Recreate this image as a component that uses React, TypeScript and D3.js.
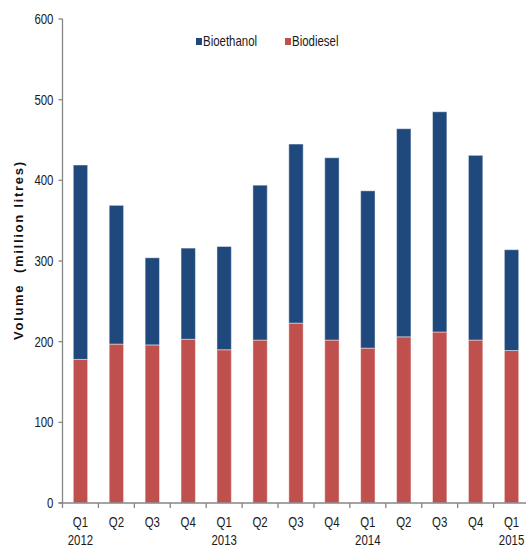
import React from "react";
import * as d3 from "d3";

// Quarterly volumes (million litres)
const quarters = ["Q1", "Q2", "Q3", "Q4", "Q1", "Q2", "Q3", "Q4", "Q1", "Q2", "Q3", "Q4", "Q1"];
const years = ["2012", "", "", "", "2013", "", "", "", "2014", "", "", "", "2015"];
const biodiesel = [178, 197, 196, 203, 190, 202, 223, 202, 192, 206, 212, 202, 189];
const bioethanol = [241, 172, 108, 113, 128, 192, 222, 226, 195, 258, 273, 229, 125];
const yTicks = [0, 100, 200, 300, 400, 500, 600];
const seriesNames = ["Bioethanol", "Biodiesel"];

const W = 526;
const H = 547;
const margin = { left: 62.5, right: -3.5, top: 19, bottom: 44 };
const BLUE = "#1F497D";
const RED = "#C0504D";
const AXIS = "#868686";
const FONT = "'Liberation Sans', Arial, sans-serif";
const NARROW = 0.83; // horizontal squeeze for a condensed look

function NarrowText(props: {
  x: number;
  y: number;
  anchor?: "start" | "middle" | "end";
  size?: number;
  children: React.ReactNode;
}) {
  const { x, y, anchor = "start", size = 13.8, children } = props;
  return (
    <text
      transform={`translate(${x},${y}) scale(${NARROW},1)`}
      textAnchor={anchor}
      fontFamily={FONT}
      fontSize={size}
      fill="#1a1a1a"
    >
      {children}
    </text>
  );
}

export default function App() {
  const keys = quarters.map((q, i) => `${q}-${i}`);
  const x = d3
    .scaleBand<string>()
    .domain(keys)
    .range([margin.left, W - margin.right])
    .paddingInner(0.6)
    .paddingOuter(0.3);
  const y = d3.scaleLinear().domain([0, 600]).range([H - margin.bottom, margin.top]);

  const rows = keys.map((k, i) => ({ key: k, Biodiesel: biodiesel[i], Bioethanol: bioethanol[i] }));
  const stacked = d3.stack<any>().keys(["Biodiesel", "Bioethanol"])(rows);
  const colors: Record<string, string> = { Biodiesel: RED, Bioethanol: BLUE };

  const step = x.step();
  const x0 = margin.left;
  const y0 = y(0);

  return (
    <svg width={W} height={H} style={{ position: "absolute", left: 0, top: 0, background: "#fff" }}>
      {/* bars */}
      {stacked.map((layer) => (
        <g key={layer.key} fill={colors[layer.key]}>
          {layer.map((d, i) => (
            <rect
              key={i}
              x={x(keys[i])!}
              y={y(d[1])}
              width={x.bandwidth()}
              height={y(d[0]) - y(d[1])}
              stroke="#ffffff"
              strokeOpacity={0.45}
              strokeWidth={1}
            />
          ))}
        </g>
      ))}

      {/* y axis */}
      <line x1={x0} x2={x0} y1={y(600)} y2={y0} stroke={AXIS} strokeWidth={1.3} />
      {yTicks.map((t) => (
        <g key={t}>
          <line x1={x0 - 4} x2={x0} y1={y(t)} y2={y(t)} stroke={AXIS} strokeWidth={1.3} />
          <NarrowText x={x0 - 9} y={y(t) + 5} anchor="end">
            {t}
          </NarrowText>
        </g>
      ))}

      {/* x axis */}
      <line x1={x0 - 4} x2={W} y1={y0} y2={y0} stroke={AXIS} strokeWidth={1.3} />
      {keys.map((k, i) => (
        <line
          key={k}
          x1={x0 + i * step}
          x2={x0 + i * step}
          y1={y0}
          y2={y0 + 5}
          stroke={AXIS}
          strokeWidth={1.3}
        />
      ))}
      {keys.map((k, i) => {
        const cx = x(k)! + x.bandwidth() / 2;
        return (
          <g key={k}>
            <NarrowText x={cx} y={y0 + 24} anchor="middle">
              {quarters[i]}
            </NarrowText>
            {years[i] && (
              <NarrowText x={cx} y={y0 + 42} anchor="middle">
                {years[i]}
              </NarrowText>
            )}
          </g>
        );
      })}

      {/* y axis title */}
      <text
        transform={`translate(22.5, 251) rotate(-90)`}
        textAnchor="middle"
        fontFamily={FONT}
        fontWeight="bold"
        fontSize={13}
        fill="#111"
        xmlSpace="preserve"
        textLength={178}
        lengthAdjust="spacing"
      >
        Volume  (million litres)
      </text>

      {/* legend */}
      {seriesNames.map((name, i) => {
        const lx = 196 + i * 89;
        return (
          <g key={name}>
            <rect x={lx} y={38} width={6} height={7} fill={name === "Bioethanol" ? BLUE : RED} />
            <NarrowText x={lx + 7} y={46}>
              {name}
            </NarrowText>
          </g>
        );
      })}
    </svg>
  );
}
